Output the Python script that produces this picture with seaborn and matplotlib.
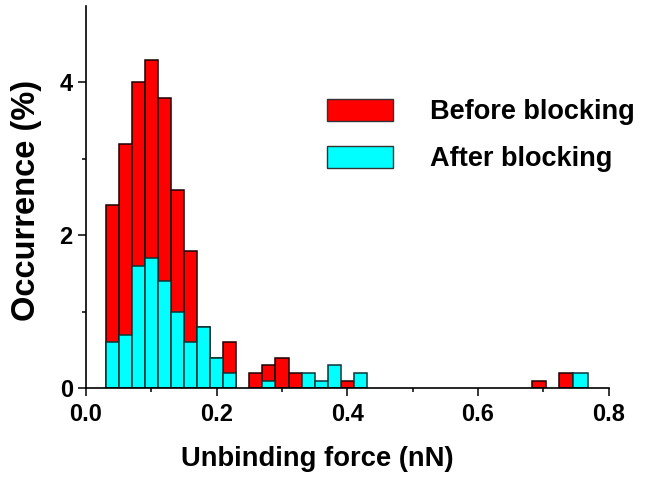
import numpy as np
import pandas as pd
import seaborn as sns
import matplotlib
matplotlib.use("Agg")
import matplotlib.pyplot as plt
from matplotlib.patches import Patch

# ---- data ----
main_edges = [0.03, 0.05, 0.07, 0.09, 0.11, 0.13, 0.15, 0.17, 0.19, 0.21, 0.23,
              0.25, 0.27, 0.29, 0.31, 0.33, 0.35, 0.37, 0.39, 0.41, 0.43]
before_main = [2.4, 3.2, 4.0, 4.3, 3.8, 2.6, 1.8, 0.8, 0.4, 0.6,
               0.0, 0.2, 0.3, 0.4, 0.2, 0.0, 0.0, 0.0, 0.1, 0.0]
after_main = [0.6, 0.7, 1.6, 1.7, 1.4, 1.0, 0.6, 0.8, 0.4, 0.2,
              0.0, 0.0, 0.1, 0.0, 0.0, 0.2, 0.1, 0.3, 0.0, 0.2]
before_tail_edges = [0.682, 0.704, 0.724, 0.746]
before_tail = [0.0, 0.1, 0.0, 0.2]   # first value: gap 0.43 -> 0.682
after_tail_edges = [0.746, 0.768]
after_tail = [0.0, 0.2]              # gap 0.43 -> 0.746, then bar

xticks = [0.0, 0.2, 0.4, 0.6, 0.8]
yticks = [0, 2, 4]
labels = ["Before blocking", "After blocking"]
colors = ["#ff0000", "#00ffff"]

before_edges = main_edges + before_tail_edges
after_edges = main_edges + after_tail_edges
df_before = pd.DataFrame({
    "force": [(a + b) / 2 for a, b in zip(before_edges[:-1], before_edges[1:])],
    "occ": before_main + before_tail})
df_after = pd.DataFrame({
    "force": [(a + b) / 2 for a, b in zip(after_edges[:-1], after_edges[1:])],
    "occ": after_main + after_tail})

sns.set_style("ticks")
plt.rcParams["font.family"] = ["Liberation Sans", "DejaVu Sans"]
plt.rcParams["font.weight"] = "bold"
for k in ["text.color", "axes.labelcolor", "xtick.color", "ytick.color"]:
    plt.rcParams[k] = "black"

fig = plt.figure(figsize=(6.54, 4.84), dpi=100)
ax = fig.add_axes([0.1315, 0.1977, 0.7992, 0.7899])

sns.histplot(data=df_before, x="force", weights="occ", bins=before_edges,
             color=colors[0], alpha=1, edgecolor="#1a0000", linewidth=1.1, ax=ax)
sns.histplot(data=df_after, x="force", weights="occ", bins=after_edges,
             color=colors[1], alpha=1, edgecolor="#0a3535", linewidth=1.1, ax=ax)
for p in ax.patches:
    if p.get_height() == 0:
        p.set_visible(False)

ax.set_xlim(0, 0.8)
ax.set_ylim(0, 5)
ax.set_xticks(xticks)
ax.set_xticklabels([f"{t:.1f}" for t in xticks])
ax.set_yticks(yticks)
ax.set_xticks([0.1, 0.3, 0.5, 0.7], minor=True)
ax.set_yticks([1, 3], minor=True)
sns.despine(ax=ax)
for s in ["left", "bottom"]:
    ax.spines[s].set_linewidth(1.2)
    ax.spines[s].set_color("black")
ax.tick_params(axis="both", which="major", length=5.5, width=1.1,
               labelsize=17, color="black", labelcolor="black")
ax.tick_params(axis="both", which="minor", length=3, width=1.1, color="black")
ax.tick_params(axis="x", which="major", pad=5)
ax.tick_params(axis="y", which="major", pad=4)
for t in ax.get_xticklabels() + ax.get_yticklabels():
    t.set_fontweight("bold")

ax.set_xlabel("Unbinding force (nN)", fontsize=19.7, fontweight="bold",
              color="black")
ax.set_ylabel("Occurrence (%)", fontsize=23.5, fontweight="bold",
              color="black")
ax.xaxis.set_label_coords(0.443, -0.152)
ax.yaxis.set_label_coords(-0.084, 0.4925)

handles = [Patch(facecolor=colors[0], edgecolor="#333333", linewidth=1),
           Patch(facecolor=colors[1], edgecolor="#333333", linewidth=1)]
leg = ax.legend(handles, labels, loc="upper left",
                bbox_to_anchor=(0.461, 0.756), frameon=False,
                prop={"size": 19.5, "weight": "bold"},
                handlelength=2.45, handleheight=0.85, handletextpad=1.35,
                labelspacing=0.77, borderpad=0, borderaxespad=0)
for t in leg.get_texts():
    t.set_color("black")

fig.savefig("out.png", dpi=100)
